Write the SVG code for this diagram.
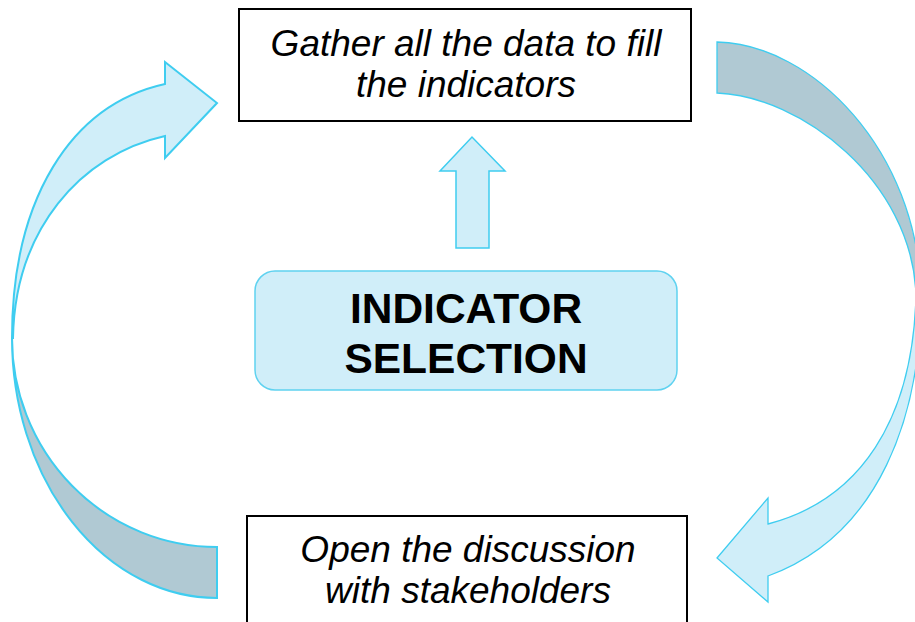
<svg xmlns="http://www.w3.org/2000/svg" width="915" height="622" viewBox="0 0 915 622">
<style>
.box{fill:#ffffff;stroke:#000000;stroke-width:2}
.lt{fill:#d0eef9;stroke:#3fcdf0;stroke-linejoin:miter}
.dk{fill:#b0c9d3;stroke:#3fcdf0;stroke-linejoin:miter}
.it{font-family:"Liberation Sans",Arial,sans-serif;font-style:italic;font-size:37px;fill:#000;text-anchor:middle}
.bd{font-family:"Liberation Sans",Arial,sans-serif;font-weight:bold;font-size:42.5px;fill:#000;text-anchor:middle}
</style>
<g id="connectors">
  <path class="dk" stroke-width="2" d="M217,547 L217,598 A205,260 0 0 1 12,338 A205,209 0 0 0 217,547 Z"/>
  <path class="lt" stroke-width="2" d="M12,338 C12,200 70,105 165,84 L165,62 L217,103 L165,158 L165,136 C80,155 15,230 13,338 Z"/>
  <path class="dk" stroke-width="1.3" d="M717,42 C812,44 918,150 921,295 L916,295 C912,180 800,96 717,93 Z"/>
  <path class="lt" stroke-width="1.3" d="M921,295 C921,415 880,535 768,576 L768,602 L717,558 L768,498 L768,524 C860,500 913,420 916,295 Z"/>
  <path class="lt" stroke-width="1.5" d="M456,248 L456,171 L440,171 L472,137 L505,171 L489,171 L489,248 Z"/>
</g>
<g id="node-gather">
  <rect class="box" x="239" y="9" width="452" height="112"/>
  <text class="it" x="466" y="56">Gather all the data to fill</text>
  <text class="it" x="466" y="97">the indicators</text>
</g>
<g id="node-selection">
  <rect x="255" y="271" width="422" height="119" rx="20" ry="20" fill="#d0eef9" stroke="#5fd2f0" stroke-width="1.5"/>
  <text class="bd" x="466" y="323">INDICATOR</text>
  <text class="bd" x="466" y="373">SELECTION</text>
</g>
<g id="node-open">
  <rect class="box" x="247" y="516" width="440" height="120"/>
  <text class="it" x="468" y="562">Open the discussion</text>
  <text class="it" x="468" y="603">with stakeholders</text>
</g>
</svg>
